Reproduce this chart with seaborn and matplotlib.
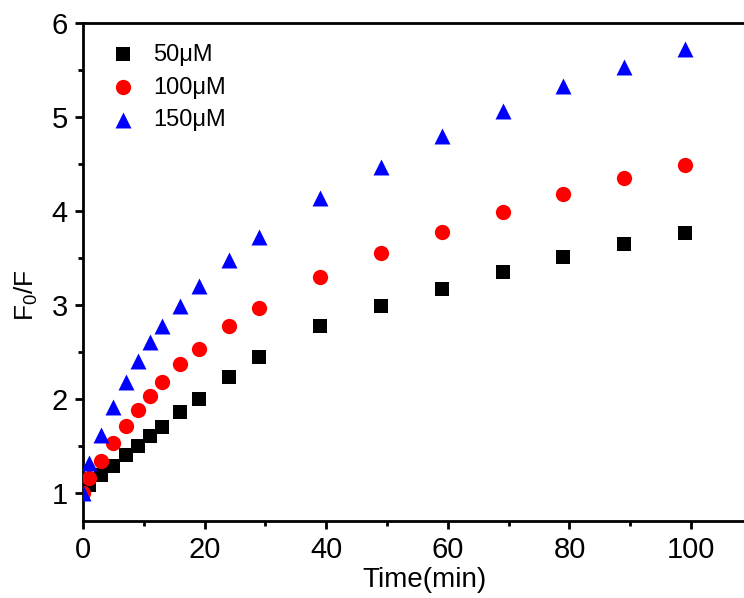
import numpy as np
import pandas as pd
import matplotlib
matplotlib.use("Agg")
import matplotlib.pyplot as plt
import seaborn as sns
from matplotlib.ticker import MultipleLocator

# Time points (min)
time = [0, 1, 3, 5, 7, 9, 11, 13, 16, 19, 24, 29, 39, 49, 59, 69, 79, 89, 99]

# F0/F values
f_50 = [1.0, 1.08, 1.19, 1.29, 1.40, 1.50, 1.60, 1.70, 1.86, 2.00, 2.23, 2.44,
        2.77, 2.99, 3.17, 3.35, 3.51, 3.65, 3.77]
f_100 = [1.0, 1.16, 1.34, 1.53, 1.71, 1.88, 2.03, 2.18, 2.37, 2.53, 2.77, 2.97,
         3.30, 3.55, 3.78, 3.99, 4.18, 4.35, 4.49]
f_150 = [1.0, 1.32, 1.62, 1.91, 2.18, 2.40, 2.60, 2.77, 2.99, 3.20, 3.48, 3.72,
         4.14, 4.47, 4.80, 5.06, 5.33, 5.53, 5.72]

labels = ["50\u03bcM", "100\u03bcM", "150\u03bcM"]
colors = ["black", "red", "blue"]
markers = ["s", "o", "^"]
msizes = [9.5, 11, 11.5]

sns.set_style("ticks")
plt.rcParams['font.family'] = ['Liberation Sans', 'DejaVu Sans']
plt.rcParams['mathtext.default'] = 'regular'
plt.rcParams['text.color'] = 'black'
plt.rcParams['axes.labelcolor'] = 'black'

df = pd.concat([
    pd.DataFrame({"time": time, "ratio": vals, "conc": lab})
    for vals, lab in zip([f_50, f_100, f_150], labels)
])

fig = plt.figure(figsize=(7.44, 5.98), dpi=100)
ax = fig.add_axes([0.1116, 0.1288, 0.899, 0.8327])

for lab, c, m, ms in zip(labels, colors, markers, msizes):
    sub = df[df["conc"] == lab]
    sns.scatterplot(data=sub, x="time", y="ratio", color=c, marker=m,
                    s=ms ** 2, linewidth=0, label=lab, ax=ax, zorder=3)

ax.set_xlim(0, 110)
ax.set_ylim(0.7, 6)
ax.xaxis.set_major_locator(MultipleLocator(20))
ax.xaxis.set_minor_locator(MultipleLocator(10))
ax.yaxis.set_major_locator(MultipleLocator(1))
ax.yaxis.set_minor_locator(MultipleLocator(0.5))

for s in ["top", "left", "bottom"]:
    ax.spines[s].set_linewidth(2.0)
    ax.spines[s].set_color("black")
ax.spines["right"].set_visible(False)

ax.tick_params(axis="both", which="major", direction="out", length=6, width=2.0,
               labelsize=21, pad=5, colors="black")
ax.tick_params(axis="both", which="minor", direction="out", length=3.5, width=2.0,
               colors="black")

ax.set_xlabel("Time(min)", fontsize=20, color="black")
ax.set_ylabel("F$_0$/F", fontsize=19, color="black")
ax.xaxis.set_label_coords(0.511, -0.0926)
ax.yaxis.set_label_coords(-0.064, 0.4527)

leg = ax.legend(loc="upper left", bbox_to_anchor=(0.010, 0.987), frameon=False,
                fontsize=17, handletextpad=0.5, labelspacing=0.46,
                borderaxespad=0.0, borderpad=0.6, handlelength=1.6)
for t in leg.get_texts():
    t.set_color("black")

fig.savefig("out.png", dpi=100)
